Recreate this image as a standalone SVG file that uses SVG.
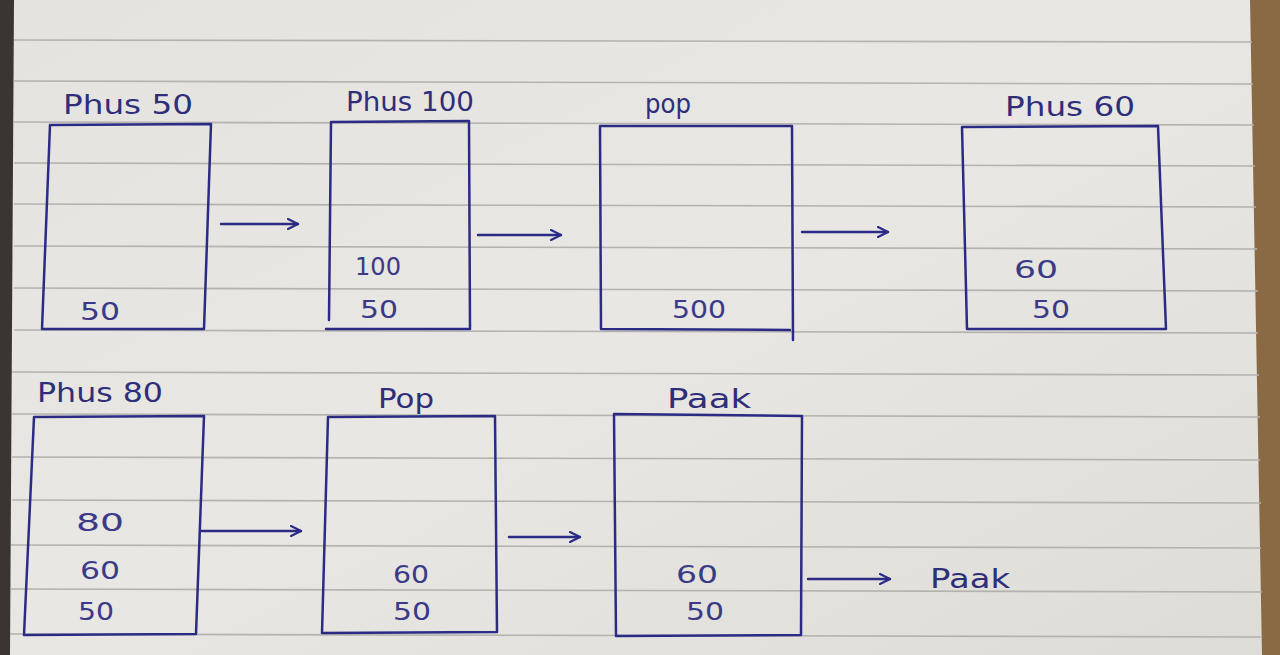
<svg xmlns="http://www.w3.org/2000/svg" width="1280" height="655" viewBox="0 0 1280 655">
<style>
.ink{fill:none;stroke:#2b2b86;stroke-width:2.5;stroke-linecap:round;stroke-linejoin:round}
.rule{stroke:#b4b2ae;stroke-width:1.6}
.lbl{font-family:"DejaVu Sans","Liberation Sans",sans-serif;font-size:27px;fill:#2e2e7a}
.val{font-family:"DejaVu Sans","Liberation Sans",sans-serif;font-size:25px;fill:#3a3a88}
</style>
<defs>
<marker id="ah" viewBox="0 0 12 12" refX="11" refY="6" markerWidth="12" markerHeight="12" markerUnits="userSpaceOnUse" orient="auto">
<path d="M1,1 L11,6 L1,11" fill="none" stroke="#2b2b86" stroke-width="2.2" stroke-linecap="round"/>
</marker>
<linearGradient id="paper" x1="0" y1="0" x2="1" y2="1">
<stop offset="0" stop-color="#e4e3e0"/>
<stop offset="0.5" stop-color="#e8e7e3"/>
<stop offset="1" stop-color="#dedcd6"/>
</linearGradient>
</defs>
<rect width="1280" height="655" fill="#8a6a45"/>
<rect x="0" y="0" width="14" height="655" fill="#3a3530"/>
<path d="M14,0 L1250,0 L1262,655 L10,655 Z" fill="url(#paper)"/>
<g id="rules">
<line class="rule" x1="14" y1="40" x2="1252" y2="42"/>
<line class="rule" x1="14" y1="81" x2="1253" y2="84"/>
<line class="rule" x1="14" y1="122" x2="1254" y2="125"/>
<line class="rule" x1="14" y1="163" x2="1255" y2="166"/>
<line class="rule" x1="14" y1="204" x2="1256" y2="207"/>
<line class="rule" x1="14" y1="246" x2="1257" y2="249"/>
<line class="rule" x1="14" y1="288" x2="1258" y2="291"/>
<line class="rule" x1="14" y1="330" x2="1258" y2="333"/>
<line class="rule" x1="12" y1="372" x2="1259" y2="375"/>
<line class="rule" x1="12" y1="414" x2="1260" y2="417"/>
<line class="rule" x1="12" y1="457" x2="1260" y2="460"/>
<line class="rule" x1="12" y1="500" x2="1261" y2="503"/>
<line class="rule" x1="11" y1="545" x2="1261" y2="548"/>
<line class="rule" x1="11" y1="589" x2="1262" y2="592"/>
<line class="rule" x1="10" y1="634" x2="1262" y2="637"/>
</g>
<g id="connectors">
<line class="ink" x1="221" y1="224" x2="298" y2="224" marker-end="url(#ah)"/>
<line class="ink" x1="478" y1="235" x2="561" y2="235" marker-end="url(#ah)"/>
<line class="ink" x1="802" y1="232" x2="888" y2="232" marker-end="url(#ah)"/>
<line class="ink" x1="201" y1="531" x2="301" y2="531" marker-end="url(#ah)"/>
<line class="ink" x1="509" y1="537" x2="580" y2="537" marker-end="url(#ah)"/>
<line class="ink" x1="808" y1="579" x2="890" y2="579" marker-end="url(#ah)"/>
</g>
<g id="s1">
<path class="ink" d="M50,125 L211,124 L204,329 L42,329 Z"/>
<text class="lbl" x="63" y="114" textLength="130" lengthAdjust="spacingAndGlyphs">Phus 50</text>
<text class="val" x="80" y="320" textLength="40" lengthAdjust="spacingAndGlyphs">50</text>
</g>
<g id="s2">
<path class="ink" d="M331,122 L469,121 L470,329 L326,329 M331,122 L329,320"/>
<text class="lbl" x="346" y="111" textLength="128" lengthAdjust="spacingAndGlyphs">Phus 100</text>
<text class="val" x="355" y="275" textLength="46" lengthAdjust="spacingAndGlyphs">100</text>
<text class="val" x="360" y="318" textLength="38" lengthAdjust="spacingAndGlyphs">50</text>
</g>
<g id="s3">
<path class="ink" d="M600,126 L792,126 L793,340 M600,126 L601,329 L790,330"/>
<text class="lbl" x="645" y="113" textLength="46" lengthAdjust="spacingAndGlyphs">pop</text>
<text class="val" x="672" y="318" textLength="54" lengthAdjust="spacingAndGlyphs">500</text>
</g>
<g id="s4">
<path class="ink" d="M962,127 L1158,126 L1166,329 L967,329 L962,127"/>
<text class="lbl" x="1005" y="116" textLength="130" lengthAdjust="spacingAndGlyphs">Phus 60</text>
<text class="val" x="1014" y="278" textLength="44" lengthAdjust="spacingAndGlyphs">60</text>
<text class="val" x="1032" y="318" textLength="38" lengthAdjust="spacingAndGlyphs">50</text>
</g>
<g id="s5">
<path class="ink" d="M34,417 L204,416 L196,634 L24,635 Z"/>
<text class="lbl" x="37" y="402" textLength="126" lengthAdjust="spacingAndGlyphs">Phus 80</text>
<text class="val" x="76" y="531" textLength="48" lengthAdjust="spacingAndGlyphs">80</text>
<text class="val" x="80" y="579" textLength="40" lengthAdjust="spacingAndGlyphs">60</text>
<text class="val" x="78" y="620" textLength="36" lengthAdjust="spacingAndGlyphs">50</text>
</g>
<g id="s6">
<path class="ink" d="M328,417 L495,416 L497,632 L322,633 L328,417"/>
<text class="lbl" x="378" y="408" textLength="56" lengthAdjust="spacingAndGlyphs">Pop</text>
<text class="val" x="393" y="583" textLength="36" lengthAdjust="spacingAndGlyphs">60</text>
<text class="val" x="393" y="620" textLength="38" lengthAdjust="spacingAndGlyphs">50</text>
</g>
<g id="s7">
<path class="ink" d="M614,414 L802,416 L801,635 L616,636 L614,414"/>
<text class="lbl" x="667" y="408" textLength="84" lengthAdjust="spacingAndGlyphs">Paak</text>
<text class="val" x="676" y="583" textLength="42" lengthAdjust="spacingAndGlyphs">60</text>
<text class="val" x="686" y="620" textLength="38" lengthAdjust="spacingAndGlyphs">50</text>
</g>
<g id="result">
<text class="lbl" x="930" y="588" textLength="80" lengthAdjust="spacingAndGlyphs">Paak</text>
</g>
</svg>
